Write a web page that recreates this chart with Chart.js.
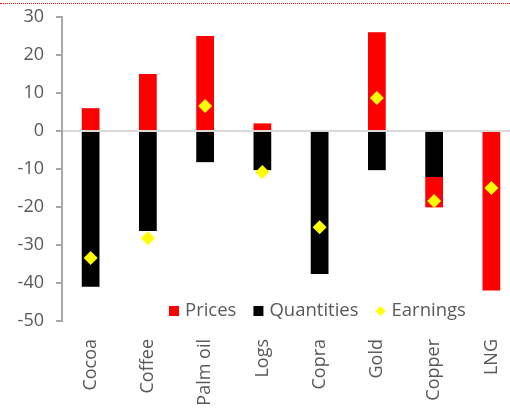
<!DOCTYPE html>
<html>
<head>
<meta charset="utf-8">
<script src="https://cdn.jsdelivr.net/npm/chart.js@4/dist/chart.umd.min.js"></script>
<style>
  html, body { margin: 0; padding: 0; background: #fff; overflow: hidden; }
  #wrap { position: relative; width: 527px; height: 413px; }
  #rule { position: absolute; left: 0; top: 3px; width: 510px; border-top: 1px dotted #ff0000; }
</style>
</head>
<body>
<div id="wrap">
  <div id="rule"></div>
  <canvas id="c" width="527" height="413"></canvas>
</div>
<script>
// commodity labels + the three series
const categories = ["Cocoa", "Coffee", "Palm oil", "Logs", "Copra", "Gold", "Copper", "LNG"];
const prices = [6, 15, 25, 2, 0, 26, -8, -42];
const quantities = [-41, -26.3, -8.2, -10.3, -37.6, -10.3, -12.1, 0];
const earnings = [-33.4, -28.2, 6.6, -10.8, -25.3, 8.7, -18.4, -15];
const yTicks = [30, 20, 10, 0, -10, -20, -30, -40, -50];

const FONT = "'Open Sans', sans-serif";
const GREY = "#595959";

/* legend sits inside the plot, near the bottom, like the Excel original */
const innerLegend = {
    id: "innerLegend",
    afterDraw(chart) {
        const ctx = chart.ctx, area = chart.chartArea;
        const items = [
            { text: "Prices", color: "#ff0000", shape: "square" },
            { text: "Quantities", color: "#000000", shape: "square" },
            { text: "Earnings", color: "#ffff00", shape: "diamond" }
        ];
        let x = area.left + 107;
        const y = area.bottom - 10;
        ctx.save();
        ctx.font = "18.5px " + FONT;
        ctx.textBaseline = "middle";
        ctx.textAlign = "left";
        for (const it of items) {
            ctx.fillStyle = it.color;
            if (it.shape === "square") {
                ctx.fillRect(x, y - 5, 10, 10);
            } else {
                ctx.beginPath();
                ctx.moveTo(x + 5, y - 5);
                ctx.lineTo(x + 10, y);
                ctx.lineTo(x + 5, y + 5);
                ctx.lineTo(x, y);
                ctx.closePath();
                ctx.fill();
            }
            ctx.fillStyle = GREY;
            ctx.fillText(it.text, x + 16, y);
            x += 16 + ctx.measureText(it.text).width + 17;
        }
        ctx.restore();
    }
};

new Chart(document.getElementById("c"), {
    type: "bar",
    data: {
        labels: categories,
        datasets: [
            {
                label: "Earnings",
                type: "line",
                data: earnings,
                stack: "e",
                order: 0,
                showLine: false,
                pointStyle: "rectRot",
                pointRadius: 7,
                pointHoverRadius: 7,
                pointBackgroundColor: "#ffff00",
                pointBorderWidth: 0,
                borderColor: "#ffff00"
            },
            {
                label: "Quantities",
                data: quantities,
                stack: "s",
                order: 1,
                backgroundColor: "#000000",
                categoryPercentage: 1,
                barPercentage: 0.31
            },
            {
                label: "Prices",
                data: prices,
                stack: "s",
                order: 2,
                backgroundColor: "#ff0000",
                categoryPercentage: 1,
                barPercentage: 0.31
            }
        ]
    },
    options: {
        responsive: false,
        animation: false,
        layout: { padding: { top: 17, right: 0, left: 0, bottom: 0 } },
        plugins: {
            legend: { display: false },
            tooltip: { enabled: false }
        },
        scales: {
            x: {
                stacked: true,
                grid: { display: false },
                border: { display: false },
                ticks: {
                    color: GREY,
                    font: { family: FONT, size: 18 },
                    minRotation: 90,
                    maxRotation: 90,
                    padding: 10,
                    autoSkip: false
                },
                afterFit(scale) { scale.height = 92; }
            },
            y: {
                stacked: true,
                min: -50,
                max: 30,
                afterBuildTicks(scale) { scale.ticks = yTicks.map(v => ({ value: v })); },
                grid: {
                    drawOnChartArea: true,
                    color: c => (c.tick && c.tick.value === 0) ? "#d9d9d9" : "rgba(0,0,0,0)",
                    tickColor: "#a6a6a6",
                    tickLength: 6,
                    lineWidth: 2
                },
                border: { display: true, color: "#a6a6a6", width: 2 },
                ticks: {
                    color: GREY,
                    font: { family: FONT, size: 18 },
                    padding: 12
                },
                afterFit(scale) {
                    scale.width = 62;
                    // layout padding alone decides where the plot starts
                    scale.paddingTop = 0;
                    scale.paddingBottom = 0;
                }
            }
        }
    },
    plugins: [innerLegend]
});
</script>
</body>
</html>
